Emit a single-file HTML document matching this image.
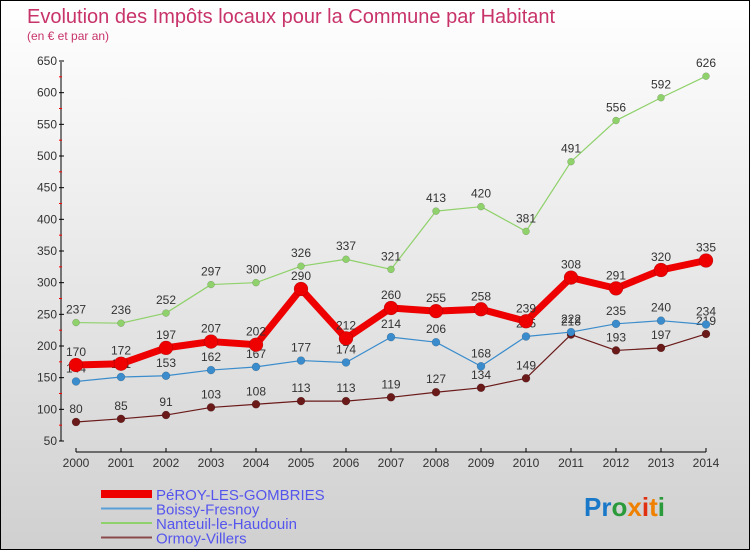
<!DOCTYPE html>
<html><head><meta charset="utf-8"><style>
body{margin:0}
#c{width:750px;height:550px;position:relative;overflow:hidden;background:linear-gradient(#fff,#d0d0d0);font-family:"Liberation Sans",sans-serif;box-sizing:border-box;border:1px solid #000}
</style></head><body>
<div id="c">
<svg id="s" width="750" height="550" style="position:absolute;left:0;top:0">
<text x="26" y="22" font-size="20" fill="#c8336a">Evolution des Impôts locaux pour la Commune par Habitant</text>
<text x="26" y="39" font-size="12" fill="#c8336a">(en € et par an)</text>
<g id="axes"></g><g id="series"></g><g id="legend"></g>
<text x="583" y="515" font-size="26" font-weight="bold"><tspan fill="#1a78c8">Pr</tspan><tspan fill="#2a9a3a">o</tspan><tspan fill="#f08000">x</tspan><tspan fill="#e03010">i</tspan><tspan fill="#f08000">t</tspan><tspan fill="#2a9a3a">i</tspan></text>
</svg>
</div>
<script>
const years=[2000,2001,2002,2003,2004,2005,2006,2007,2008,2009,2010,2011,2012,2013,2014];
const peroy=[170,172,197,207,202,290,212,260,255,258,239,308,291,320,335];
const boissy=[144,151,153,162,167,177,174,214,206,168,215,222,235,240,234];
const nanteuil=[237,236,252,297,300,326,337,321,413,420,381,491,556,592,626];
const ormoy=[80,85,91,103,108,113,113,119,127,134,149,218,193,197,219];
const yTicks=[50,100,150,200,250,300,350,400,450,500,550,600,650];
const seriesNames=["PéROY-LES-GOMBRIES","Boissy-Fresnoy","Nanteuil-le-Haudouin","Ormoy-Villers"];
const NS="http://www.w3.org/2000/svg";
const X=i=>75+i*45, Y=v=>440-(v-50)*380/600;
function mk(t,a,p){const e=document.createElementNS(NS,t);for(const k in a)e.setAttribute(k,a[k]);p.appendChild(e);return e;}
const ax=document.getElementById('axes');
mk('line',{x1:60,y1:61,x2:60,y2:440,stroke:'#000','stroke-width':1},ax);
mk('line',{x1:75,y1:451,x2:705,y2:451,stroke:'#000','stroke-width':1},ax);
yTicks.forEach((v,i)=>{
 mk('line',{x1:58,y1:Y(v),x2:63,y2:Y(v),stroke:'#000'},ax);
 if(i<yTicks.length-1)mk('line',{x1:58,y1:Y(v+25),x2:61,y2:Y(v+25),stroke:'#f00'},ax);
 const t=mk('text',{x:56,y:Y(v)+4,'font-size':12,fill:'#333','text-anchor':'end'},ax);t.textContent=v;
 
 
});
years.forEach((y,i)=>{
 mk('line',{x1:X(i),y1:447,x2:X(i),y2:451,stroke:'#000'},ax);
 const t=mk('text',{x:X(i),y:466,'font-size':12,fill:'#333','text-anchor':'middle'},ax);t.textContent=y;
 
 
});
const sg=document.getElementById('series');
function draw(data,color,w,r,name){
 const g=mk('g',{},sg);
 
 
 mk('polyline',{points:data.map((v,i)=>X(i)+','+Y(v)).join(' '),fill:'none',stroke:color,'stroke-width':w,'stroke-linejoin':'round'},g);
 data.forEach((v,i)=>{
  const c=mk('circle',{cx:X(i),cy:Y(v),r:r,fill:color,stroke:'rgba(0,0,0,0.25)','stroke-width':0.5},g);
  
  
  const t=mk('text',{x:X(i),y:Y(v)-9,'font-size':12,fill:'#333','text-anchor':'middle'},g);t.textContent=v;
  
  
 });
}
draw(ormoy,'#6b1a1a',1.2,4,'series-ormoy');
draw(nanteuil,'#8fd16a',1.2,3.5,'series-nanteuil');
draw(boissy,'#3a8ccc',1.2,4,'series-boissy');
draw(peroy,'#ee0000',7,7,'series-peroy');
const lg=document.getElementById('legend');
const lc=['#ee0000','#5aa0d8','#8fd16a','#8a4a4a'],lw=[8,2,2,2];
seriesNames.forEach((n,i)=>{
 const y=493+i*14.5;
 const g=mk('g',{},lg);
 
 
 mk('line',{x1:100,y1:y,x2:151,y2:y,stroke:lc[i],'stroke-width':lw[i]},g);
 const t=mk('text',{x:155,y:y+6,'font-size':15,fill:'#5555ee'},g);t.textContent=n;
});
</script>
</body></html>
